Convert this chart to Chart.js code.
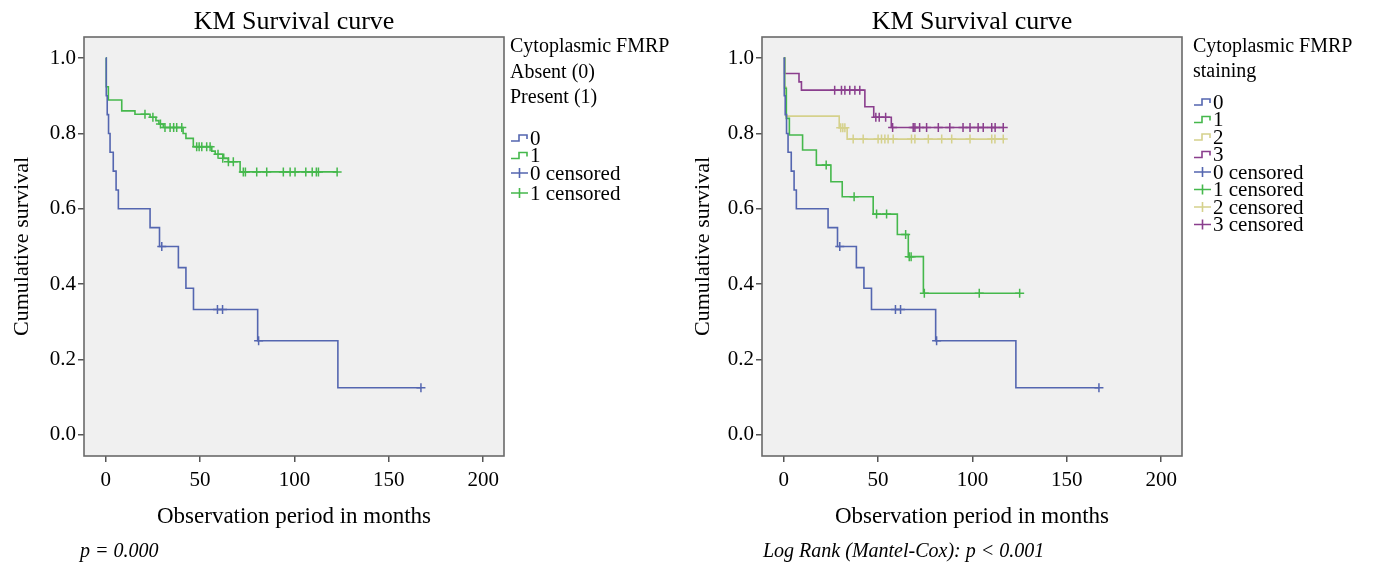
<!DOCTYPE html>
<html>
<head>
<meta charset="utf-8">
<script src="https://cdn.jsdelivr.net/npm/chart.js@4"></script>
<style>
body { margin: 0; background: #fff; width: 1374px; height: 563px; position: relative; overflow: hidden; }
canvas { position: absolute; top: 0; }
#leftChart { left: 0; }
#rightChart { left: 687px; }
</style>
</head>
<body>
<canvas id="leftChart" width="687" height="563"></canvas>
<canvas id="rightChart" width="687" height="563"></canvas>
<script>
const xTicks = [0, 50, 100, 150, 200];
const yTicks = [0, 0.2, 0.4, 0.6, 0.8, 1.0];

// group 0 (absent / staining 0) - same patients on both charts
const g0Time = [0, 0.3, 0.8, 1.5, 2.3, 4, 5.5, 6.7, 23.5, 28.5, 38.5, 42.5, 46.5, 80.5, 123, 167];
const g0Surv = [1.0, 0.9, 0.85, 0.8, 0.75, 0.7, 0.65, 0.6, 0.55, 0.5, 0.444, 0.389, 0.333, 0.25, 0.125, 0.125];
const g0CensTime = [29.7, 59.2, 61.9, 81, 167];
const g0CensSurv = [0.5, 0.333, 0.333, 0.25, 0.125];

// present (1), left chart
const presTime = [0, 0.3, 1.4, 8.5, 15.5, 23.5, 26.6, 28.2, 30.5, 41, 42.5, 46.4, 56.2, 58, 62.5, 65, 71.2, 123];
const presSurv = [1.0, 0.924, 0.889, 0.86, 0.851, 0.843, 0.834, 0.825, 0.816, 0.8, 0.787, 0.765, 0.753, 0.745, 0.734, 0.725, 0.698, 0.698];
const presCensTime = [20.8, 25, 29, 31.4, 34.1, 36, 37.6, 40.3, 48.2, 49.5, 50.9, 53.5, 55.3, 59.5, 62, 65, 67.6, 72.9, 74, 80, 85.3, 94.1, 97.7, 100.3, 106, 109.4, 111.6, 112.7, 122.6];
const presCensSurv = [0.851, 0.843, 0.825, 0.816, 0.816, 0.816, 0.816, 0.816, 0.765, 0.765, 0.765, 0.765, 0.765, 0.745, 0.734, 0.725, 0.725, 0.698, 0.698, 0.698, 0.698, 0.698, 0.698, 0.698, 0.698, 0.698, 0.698, 0.698, 0.698];

// staining 1
const s1Time = [0, 0.5, 1.4, 3, 10, 17.3, 25, 31, 47.4, 60.2, 66, 74, 125];
const s1Surv = [1.0, 0.92, 0.84, 0.796, 0.756, 0.716, 0.672, 0.632, 0.586, 0.532, 0.473, 0.376, 0.376];
const s1CensTime = [22.5, 37.3, 49.2, 54.5, 64.6, 66.5, 67.5, 74.5, 103.6, 125];
const s1CensSurv = [0.716, 0.632, 0.586, 0.586, 0.532, 0.473, 0.473, 0.376, 0.376, 0.376];

// staining 2
const s2Time = [0, 0.5, 1.2, 29.4, 33.6, 117];
const s2Surv = [1.0, 0.923, 0.846, 0.815, 0.785, 0.785];
const s2CensTime = [30.2, 31.3, 32.4, 36.8, 42.1, 50, 51.8, 53.6, 55.3, 58, 67.7, 69.5, 76.6, 83.7, 89, 98.7, 110.2, 111.9, 116.3];
const s2CensSurv = [0.815, 0.815, 0.815, 0.785, 0.785, 0.785, 0.785, 0.785, 0.785, 0.785, 0.785, 0.785, 0.785, 0.785, 0.785, 0.785, 0.785, 0.785, 0.785];

// staining 3
const s3Time = [0, 0.5, 8.1, 9.4, 43, 47.7, 57, 116.5];
const s3Surv = [1.0, 0.959, 0.937, 0.915, 0.871, 0.843, 0.816, 0.816];
const s3CensTime = [27, 30.6, 32.4, 35, 37.7, 40.3, 48.8, 50.6, 54, 57.7, 68.6, 69.5, 72, 75.7, 81.9, 88, 95, 98.7, 103, 105.7, 110.2, 112, 116.3];
const s3CensSurv = [0.915, 0.915, 0.915, 0.915, 0.915, 0.915, 0.843, 0.843, 0.843, 0.816, 0.816, 0.816, 0.816, 0.816, 0.816, 0.816, 0.816, 0.816, 0.816, 0.816, 0.816, 0.816, 0.816];

const blue = '#5466b0';
const green = '#45b84c';
const yellow = '#d5d18c';
const purple = '#8a3e8d';

Chart.defaults.font.family = "'Liberation Serif', 'Times New Roman', serif";
Chart.defaults.color = '#000';

function pts(times, surv) {
    return times.map((t, i) => ({ x: t, y: surv[i] }));
}

function curve(label, times, surv, color) {
    return {
        label: label,
        data: pts(times, surv),
        showLine: true,
        stepped: 'before',
        borderColor: color,
        borderWidth: 1.6,
        pointRadius: 0,
        fill: false
    };
}

function censored(label, times, surv, color) {
    return {
        label: label,
        data: pts(times, surv),
        showLine: false,
        pointStyle: 'cross',
        pointRadius: 4.5,
        borderColor: color,
        backgroundColor: color,
        borderWidth: 1.5
    };
}

const kmFrame = {
    id: 'kmFrame',
    beforeDraw(chart) {
        const a = chart.chartArea;
        const ctx = chart.ctx;
        ctx.save();
        ctx.fillStyle = '#f0f0f0';
        ctx.fillRect(a.left, a.top, a.right - a.left, a.bottom - a.top);
        ctx.restore();
    },
    afterDraw(chart, args, opts) {
        const a = chart.chartArea;
        const ctx = chart.ctx;
        ctx.save();
        ctx.strokeStyle = '#6a6a6a';
        ctx.lineWidth = 1.6;
        ctx.strokeRect(a.left, a.top, a.right - a.left, a.bottom - a.top);

        // title
        ctx.fillStyle = '#000';
        ctx.textAlign = 'center';
        ctx.textBaseline = 'alphabetic';
        ctx.font = "26px 'Liberation Serif', serif";
        ctx.fillText('KM Survival curve', (a.left + a.right) / 2, 28.5);

        // legend title
        ctx.textAlign = 'left';
        ctx.font = "20px 'Liberation Serif', serif";
        opts.legendTitle.forEach((line, i) => {
            ctx.fillText(line, opts.legendX, opts.titleY[i]);
        });

        // legend items
        ctx.textBaseline = 'middle';
        ctx.font = "21px 'Liberation Serif', serif";
        chart.data.datasets.forEach((ds, i) => {
            const y = opts.itemY[i];
            const x = opts.legendX + 1;
            ctx.strokeStyle = ds.borderColor;
            ctx.lineWidth = 1.6;
            ctx.beginPath();
            if (ds.showLine) {
                ctx.moveTo(x, y + 3);
                ctx.lineTo(x + 8, y + 3);
                ctx.lineTo(x + 8, y - 3);
                ctx.lineTo(x + 16, y - 3);
                ctx.lineTo(x + 16, y + 1);
            } else {
                ctx.moveTo(x, y);
                ctx.lineTo(x + 17, y);
                ctx.moveTo(x + 8.5, y - 5);
                ctx.lineTo(x + 8.5, y + 5);
            }
            ctx.stroke();
            ctx.fillText(ds.label, opts.legendX + 20, y + 1);
        });

        // note under the chart
        ctx.font = "italic 20px 'Liberation Serif', serif";
        ctx.textBaseline = 'alphabetic';
        ctx.fillText(opts.note, opts.noteX, 557);
        ctx.restore();
    }
};

function makeChart(id, datasets, yWidth, padRight, yTitlePad, frameOpts) {
    return new Chart(document.getElementById(id), {
        type: 'scatter',
        data: { datasets: datasets },
        options: {
            responsive: false,
            animation: false,
            layout: { padding: { left: 0, top: 37, right: padRight, bottom: 27 } },
            plugins: {
                legend: { display: false },
                tooltip: { enabled: false },
                kmFrame: frameOpts
            },
            scales: {
                x: {
                    type: 'linear',
                    min: -11.5,
                    max: 211,
                    afterBuildTicks: (s) => { s.ticks = xTicks.map(v => ({ value: v })); },
                    afterFit: (s) => { s.height = 80; },
                    ticks: { font: { size: 21 }, padding: 6, color: '#000' },
                    grid: { drawOnChartArea: false, tickLength: 6, color: '#555', lineWidth: 1.5 },
                    border: { display: false },
                    title: { display: true, text: 'Observation period in months', font: { size: 23 }, color: '#000', padding: { top: 0, bottom: 5 } }
                },
                y: {
                    min: -0.056,
                    max: 1.056,
                    afterBuildTicks: (s) => { s.ticks = yTicks.map(v => ({ value: v })); },
                    afterFit: (s) => { s.width = yWidth; },
                    ticks: { font: { size: 21 }, padding: 2, color: '#000', callback: (v) => Number(v).toFixed(1) },
                    grid: { drawOnChartArea: false, tickLength: 6, color: '#555', lineWidth: 1.5 },
                    border: { display: false },
                    title: { display: true, text: 'Cumulative survival', font: { size: 22 }, color: '#000', padding: { top: yTitlePad, bottom: 0 } }
                }
            }
        },
        plugins: [kmFrame]
    });
}

makeChart('leftChart', [
    curve('0', g0Time, g0Surv, blue),
    curve('1', presTime, presSurv, green),
    censored('0 censored', g0CensTime, g0CensSurv, blue),
    censored('1 censored', presCensTime, presCensSurv, green)
], 84, 183, 9, {
    legendTitle: ['Cytoplasmic FMRP', 'Absent (0)', 'Present (1)'],
    legendX: 510,
    titleY: [52, 78, 103],
    itemY: [138, 155.5, 173, 193],
    note: 'p = 0.000',
    noteX: 80
});

makeChart('rightChart', [
    curve('0', g0Time, g0Surv, blue),
    curve('1', s1Time, s1Surv, green),
    curve('2', s2Time, s2Surv, yellow),
    curve('3', s3Time, s3Surv, purple),
    censored('0 censored', g0CensTime, g0CensSurv, blue),
    censored('1 censored', s1CensTime, s1CensSurv, green),
    censored('2 censored', s2CensTime, s2CensSurv, yellow),
    censored('3 censored', s3CensTime, s3CensSurv, purple)
], 75, 192, 3, {
    legendTitle: ['Cytoplasmic FMRP', 'staining'],
    legendX: 506,
    titleY: [52, 77],
    itemY: [102, 119.5, 137, 154.5, 172, 189.5, 207, 224.5],
    note: 'Log Rank (Mantel-Cox): p < 0.001',
    noteX: 76
});
</script>
</body>
</html>
